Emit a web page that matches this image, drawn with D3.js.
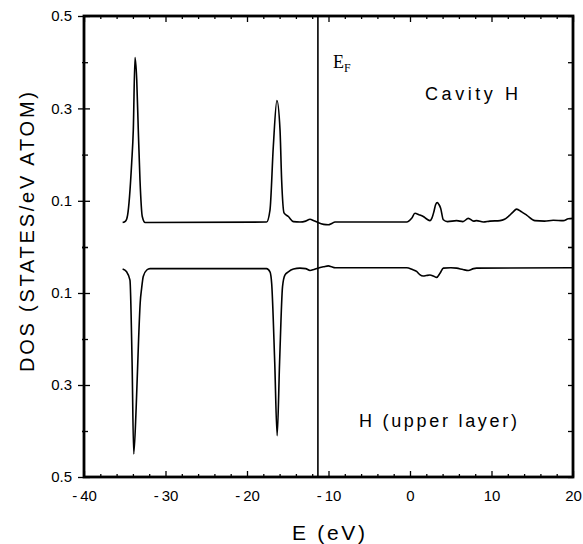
<!DOCTYPE html>
<html>
<head>
<meta charset="utf-8">
<script src="https://cdn.jsdelivr.net/npm/d3@7"></script>
<style>
  html, body { margin: 0; padding: 0; background: #fff; }
  svg { display: block; }
  text { font-family: "Liberation Sans", Arial, sans-serif; fill: #000; }
</style>
</head>
<body>
<svg id="chart" width="583" height="544"></svg>
<script>
// ---- data ----
const xTicks = [-40, -30, -20, -10, 0, 10, 20];
const yTickLabels = [0.1, 0.3, 0.5];
const yMinorTicks = [0, 0.2, 0.4];
const fermiEnergy = -11.3;

// Cavity H (plotted upward)
const energyCavity = [-35.26, -34.9, -34.65, -34.15, -33.95, -33.74, -33.53, -33.34, -33.13, -32.85, -32.5,
  -17.6, -17.18, -16.77, -16.33, -15.95, -15.75, -15.46, -14.93, -14.3, -13.5, -12.8, -12.27, -11.8, -11.3,
  -10.6, -10.02, -9.6, -9.2, -0.4, 0.2, 0.61, 1.1, 1.63, 2.1, 2.45, 2.7, 2.94, 3.15, 3.35, 3.55, 3.76, 4.09,
  4.6, 5.72, 6.5, 7.15, 7.8, 8.17, 9.0, 9.8, 11.04, 11.6, 12.06, 12.6, 13.08, 13.7, 14.31, 15.33, 16.5,
  17.58, 18.8, 19.42, 20];
const dosCavity = [0.053, 0.056, 0.069, 0.182, 0.254, 0.41, 0.362, 0.254, 0.145, 0.066, 0.053,
  0.054, 0.08, 0.218, 0.317, 0.254, 0.145, 0.074, 0.066, 0.055, 0.054, 0.056, 0.06, 0.057, 0.053,
  0.049, 0.048, 0.051, 0.054, 0.054, 0.062, 0.073, 0.07, 0.066, 0.06, 0.057, 0.063, 0.077, 0.092, 0.096, 0.092, 0.084, 0.059,
  0.055, 0.057, 0.055, 0.062, 0.056, 0.057, 0.054, 0.056, 0.057, 0.06, 0.066, 0.075, 0.082, 0.076, 0.069, 0.057, 0.056,
  0.058, 0.057, 0.061, 0.062];

// H (upper layer) (plotted downward)
const energyUpper = [-35.26, -34.77, -34.36, -34.1, -33.9, -33.6, -33.3, -33.1, -32.93, -32.73, -32.3, -31.9,
  -17.6, -17.18, -16.97, -16.6, -16.3, -16.0, -15.64, -15.35, -14.93, -14.3, -13.5, -12.8, -12.27, -11.8,
  -11.3, -10.6, -10.02, -9.6, -9.2, -0.4, 0.3, 0.81, 1.2, 1.63, 2.0, 2.45, 2.86, 3.27, 3.68, 4.09, 5.0,
  5.72, 6.5, 7.15, 7.8, 8.17, 20];
const dosUpper = [0.048, 0.054, 0.072, 0.25, 0.45, 0.35, 0.2, 0.12, 0.09, 0.064, 0.05, 0.047,
  0.047, 0.054, 0.08, 0.25, 0.41, 0.25, 0.086, 0.061, 0.054, 0.048, 0.046, 0.047, 0.051, 0.049,
  0.046, 0.043, 0.041, 0.043, 0.045, 0.045, 0.049, 0.053, 0.06, 0.063, 0.062, 0.061, 0.063, 0.066, 0.057, 0.046, 0.045,
  0.046, 0.049, 0.051, 0.047, 0.046, 0.045];

// ---- layout ----
const L = 84, R = 573, T = 16, B = 477, MID = 247;
const svg = d3.select("#chart");

const x = d3.scaleLinear().domain([-40, 20]).range([L, R]);
const yUp = d3.scaleLinear().domain([0, 0.5]).range([MID, T]);
const yDown = d3.scaleLinear().domain([0, 0.5]).range([MID, B]);

// curves
const lineUp = d3.line().x((d, i) => x(energyCavity[i])).y(d => yUp(d)).curve(d3.curveMonotoneX);
const lineDown = d3.line().x((d, i) => x(energyUpper[i])).y(d => yDown(d)).curve(d3.curveMonotoneX);

svg.append("path").attr("d", lineUp(dosCavity))
  .attr("fill", "none").attr("stroke", "#000").attr("stroke-width", 1.6).attr("stroke-linejoin", "round");
svg.append("path").attr("d", lineDown(dosUpper))
  .attr("fill", "none").attr("stroke", "#000").attr("stroke-width", 1.6).attr("stroke-linejoin", "round");

// Fermi level
svg.append("line").attr("x1", x(fermiEnergy)).attr("x2", x(fermiEnergy))
  .attr("y1", T).attr("y2", B).attr("stroke", "#000").attr("stroke-width", 1.6);

// axes helpers
function styleAxis(g) {
  g.select(".domain").remove();
  g.selectAll(".tick line").attr("stroke", "#000").attr("stroke-width", 1.3);
  g.selectAll(".tick text").style("font-size", "15px").style("font-family", "'Liberation Sans', Arial, sans-serif");
}
const fmt = d3.format(".1f");

[yUp, yDown].forEach(sc => {
  svg.append("g").attr("transform", `translate(${L},0)`)
    .call(d3.axisLeft(sc).tickValues(yTickLabels).tickFormat(fmt).tickSize(6).tickPadding(6))
    .call(styleAxis);
  svg.append("g").attr("transform", `translate(${L},0)`)
    .call(d3.axisRight(sc).tickValues(yTickLabels).tickFormat("").tickSize(6))
    .call(styleAxis);
  svg.append("g").attr("transform", `translate(${L},0)`)
    .call(d3.axisRight(sc).tickValues(yMinorTicks).tickFormat("").tickSize(4))
    .call(styleAxis);
  svg.append("g").attr("transform", `translate(${L},0)`)
    .call(d3.axisLeft(sc).tickValues(yMinorTicks).tickFormat("").tickSize(2))
    .call(styleAxis);
  svg.append("g").attr("transform", `translate(${R},0)`)
    .call(d3.axisLeft(sc).tickValues(yTickLabels.concat(yMinorTicks)).tickFormat("").tickSize(5))
    .call(styleAxis);
});

// bottom axis
svg.append("g").attr("transform", `translate(0,${B})`)
  .call(d3.axisBottom(x).tickValues(xTicks).tickFormat(d => String(d).replace("-", "-\u2009")).tickSize(-6).tickPadding(13))
  .call(styleAxis);
svg.append("g").attr("transform", `translate(0,${B})`)
  .call(d3.axisBottom(x).tickValues(d3.range(-38, 20, 2).filter(v => v % 10 !== 0)).tickFormat("").tickSize(-3))
  .call(styleAxis);
// top axis
svg.append("g").attr("transform", `translate(0,${T})`)
  .call(d3.axisTop(x).tickValues(xTicks).tickFormat("").tickSize(-6))
  .call(styleAxis);
svg.append("g").attr("transform", `translate(0,${T})`)
  .call(d3.axisTop(x).tickValues(d3.range(-38, 20, 2).filter(v => v % 10 !== 0)).tickFormat("").tickSize(-3))
  .call(styleAxis);

// frame
svg.append("rect").attr("x", L).attr("y", T).attr("width", R - L).attr("height", B - T)
  .attr("fill", "none").attr("stroke", "#000").attr("stroke-width", 2.8);

// labels
svg.append("text").attr("x", (L + R) / 2).attr("y", 540)
  .attr("text-anchor", "middle").style("font-size", "21px")
  .attr("textLength", 73).attr("lengthAdjust", "spacing")
  .text("E (eV)");

svg.append("text").attr("transform", `translate(34,232) rotate(-90)`)
  .attr("text-anchor", "middle").style("font-size", "20px")
  .attr("textLength", 280).attr("lengthAdjust", "spacing")
  .text("DOS (STATES/eV ATOM)");

const ef = svg.append("text").attr("x", 333).attr("y", 68)
  .style("font-family", "'Liberation Serif', 'Times New Roman', serif").style("font-size", "18px");
ef.append("tspan").text("E");
ef.append("tspan").attr("dy", 4).style("font-size", "12px").text("F");

svg.append("text").attr("x", 425).attr("y", 100).style("font-size", "18px")
  .attr("textLength", 93).attr("lengthAdjust", "spacing").text("Cavity H");

svg.append("text").attr("x", 359).attr("y", 427).style("font-size", "18px")
  .attr("textLength", 158).attr("lengthAdjust", "spacing").text("H (upper layer)");
</script>
</body>
</html>
